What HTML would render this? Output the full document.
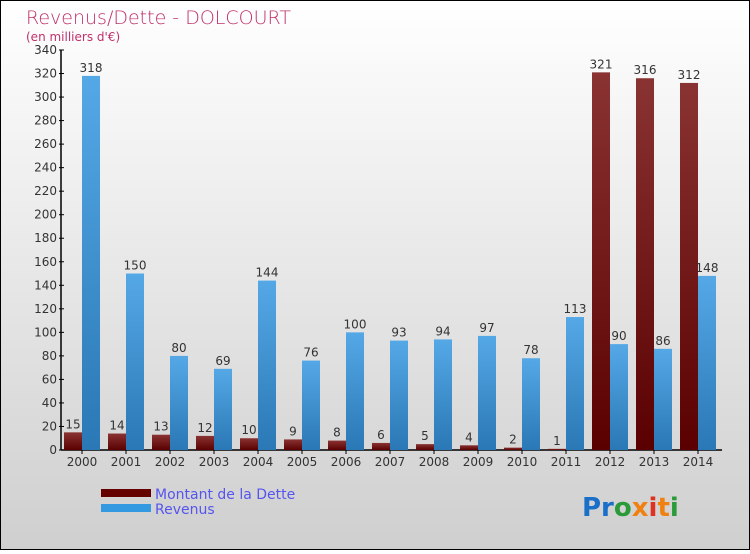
<!DOCTYPE html>
<html><head><meta charset="utf-8"><style>
html,body{margin:0;padding:0}
body{width:750px;height:550px;overflow:hidden;font-family:"DejaVu Sans","Liberation Sans",sans-serif}
</style></head><body>
<svg width="750" height="550" xmlns="http://www.w3.org/2000/svg">
<defs>
<linearGradient id="bg" x1="0" y1="0" x2="0" y2="1"><stop offset="0" stop-color="#ffffff"/><stop offset="1" stop-color="#cfcfcf"/></linearGradient>
<linearGradient id="gd" x1="0" y1="0" x2="0" y2="1"><stop offset="0" stop-color="#8a3333"/><stop offset="1" stop-color="#5a0000"/></linearGradient>
<linearGradient id="gr" x1="0" y1="0" x2="0" y2="1"><stop offset="0" stop-color="#55a8e6"/><stop offset="1" stop-color="#2a78b5"/></linearGradient>
</defs>
<rect x="0.5" y="0.5" width="749" height="549" fill="url(#bg)" stroke="#000" stroke-width="1"/>
<text x="26" y="24" font-size="19" fill="#c0306a" style="font-weight:200">Revenus/Dette - DOLCOURT</text>
<text x="26" y="41" font-size="12" fill="#c0306a">(en milliers d'€)</text>
<g id="axes"></g>
<g id="bars"></g>
<g>
<rect x="101" y="489" width="50" height="8" fill="#660000"/>
<text x="155" y="499" font-size="14" fill="#5555ee">Montant de la Dette</text>
<rect x="101" y="504" width="50" height="8" fill="#3399e0"/>
<text x="155" y="514" font-size="14" fill="#5555ee">Revenus</text>
</g>
<text x="582" y="516" font-size="26" font-weight="bold"><tspan fill="#1a6fc9">Pr</tspan><tspan fill="#2a9a3a">o</tspan><tspan fill="#f08010">x</tspan><tspan fill="#e03020">i</tspan><tspan fill="#f08010">t</tspan><tspan fill="#2a9a3a">i</tspan></text>
</svg>
<script>
const years=["2000","2001","2002","2003","2004","2005","2006","2007","2008","2009","2010","2011","2012","2013","2014"];
const dette=[15,14,13,12,10,9,8,6,5,4,2,1,321,316,312];
const revenus=[318,150,80,69,144,76,100,93,94,97,78,113,90,86,148];
const yTicks=[0,20,40,60,80,100,120,140,160,180,200,220,240,260,280,300,320,340];
const NS="http://www.w3.org/2000/svg";
const y0=450,yTop=50,yMax=340,x0=61,slot=44,firstC=82,bw=18;
const y=v=>y0-(v/yMax)*(y0-yTop);
const xc=i=>firstC+i*slot;
function mk(t,a,p){const e=document.createElementNS(NS,t);for(const k in a)e.setAttribute(k,a[k]);p.appendChild(e);return e;}
const ax=document.getElementById('axes'),bg=document.getElementById('bars');
let l=mk('line',{x1:x0,y1:yTop,x2:x0,y2:y0,stroke:'#000','stroke-width':1.5},ax);


l=mk('line',{x1:x0,y1:y0,x2:722,y2:y0,stroke:'#000','stroke-width':1.5},ax);


yTicks.forEach(v=>{
 const t=mk('line',{x1:x0-2,y1:y(v),x2:x0+3,y2:y(v),stroke:'#000'},ax);
 
 
 const tx=mk('text',{x:x0-4,y:y(v)+4,'text-anchor':'end','font-size':12,fill:'#333'},ax);
 tx.textContent=v;
 
 
});
years.forEach((yr,i)=>{
 const c=xc(i);
 const tk=mk('line',{x1:c,y1:y0,x2:c,y2:y0+4,stroke:'#000'},ax);
 
 
 const tx=mk('text',{x:c,y:y0+16,'text-anchor':'middle','font-size':12,fill:'#333'},ax);
 tx.textContent=yr;
 
 
 const d=mk('rect',{x:c-bw,y:y(dette[i]),width:bw,height:y0-y(dette[i]),fill:'url(#gd)'},bg);
 
 
 const r=mk('rect',{x:c,y:y(revenus[i]),width:bw,height:y0-y(revenus[i]),fill:'url(#gr)'},bg);
 
 
 const dl=mk('text',{x:c-bw/2,y:y(dette[i])-4,'text-anchor':'middle','font-size':12,fill:'#333'},bg);
 dl.textContent=dette[i];
 
 
 const rl=mk('text',{x:c+bw/2,y:y(revenus[i])-4,'text-anchor':'middle','font-size':12,fill:'#333'},bg);
 rl.textContent=revenus[i];
 
 
});
</script>
</body></html>
